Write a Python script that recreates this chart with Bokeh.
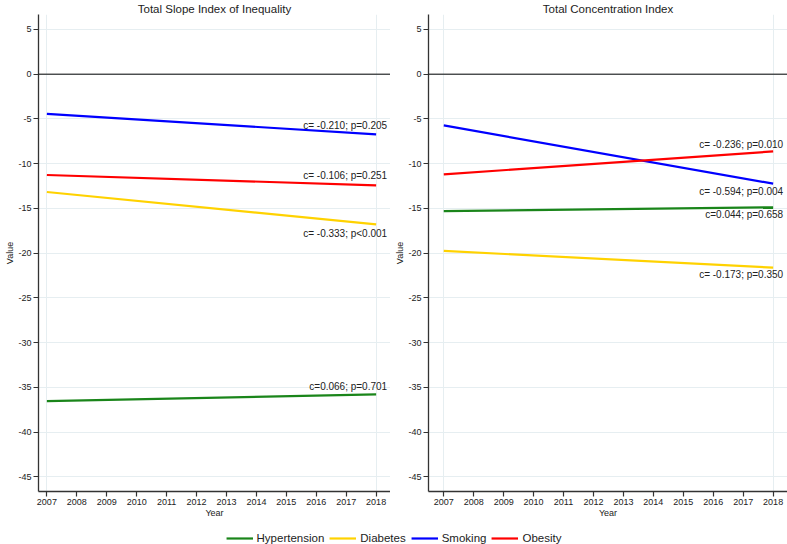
from bokeh.plotting import figure
from bokeh.models import (ColumnDataSource, Range1d, FixedTicker, Span, Legend,
                          LegendItem)
from bokeh.layouts import column, row
from bokeh.embed import file_html
from bokeh.resources import INLINE
from bokeh.core.properties import value

# ---------------- data ----------------
years = [2007, 2018]
series = ["Hypertension", "Diabetes", "Smoking", "Obesity"]
colors = ["#1a851a", "#ffd200", "#0000ff", "#ff0000"]

sii_hypertension = [-36.53, -35.79]
sii_diabetes = [-13.17, -16.78]
sii_smoking = [-4.43, -6.73]
sii_obesity = [-11.27, -12.42]
sii_labels = ["c=0.066; p=0.701", "c= -0.333; p<0.001",
              "c= -0.210; p=0.205", "c= -0.106; p=0.251"]
sii_label_dy = [-8, 9, -9, -10]

ci_hypertension = [-15.30, -14.88]
ci_diabetes = [-19.75, -21.62]
ci_smoking = [-5.73, -12.24]
ci_obesity = [-11.20, -8.63]
ci_labels = ["c=0.044; p=0.658", "c= -0.173; p=0.350",
             "c= -0.594; p=0.004", "c= -0.236; p=0.010"]
ci_label_dy = [7.5, 7, 8, -7]

y_ticks = [5, 0, -5, -10, -15, -20, -25, -30, -35, -40, -45]
y_tick_labels = [str(t) for t in y_ticks]
x_ticks = list(range(2007, 2019))
x_tick_labels = [str(t) for t in x_ticks]

FONT = "Liberation Sans"
TXT = "#222222"
GRID = "#e6eef1"


def make_panel(title, vals, labels, dys, width, left_border, xr, text_dx):
    p = figure(width=width, height=521, output_backend="svg",
               toolbar_location=None, x_range=Range1d(*xr),
               y_range=Range1d(-46.64, 6.67),
               min_border_left=left_border, min_border_right=0,
               min_border_top=13, min_border_bottom=30)
    p.title.text = title
    p.title.align = "center"
    p.title.text_font = FONT
    p.title.text_font_size = "11.5px"
    p.title.text_font_style = "normal"
    p.title.text_color = TXT
    p.title.standoff = 0
    p.title.offset = 0
    p.outline_line_color = None
    p.background_fill_color = "white"

    for ax, ticks, labs in ((p.yaxis[0], y_ticks, y_tick_labels),
                            (p.xaxis[0], x_ticks, x_tick_labels)):
        ax.ticker = FixedTicker(ticks=ticks)
        ax.major_label_overrides = dict(zip(ticks, labs))
        ax.major_label_text_font = FONT
        ax.major_label_text_font_size = "9px"
        ax.major_label_text_color = TXT
        ax.axis_label_text_font = FONT
        ax.axis_label_text_font_size = "9px"
        ax.axis_label_text_font_style = "normal"
        ax.axis_label_text_color = TXT
        ax.axis_line_color = "#333333"
        ax.axis_line_width = 1.3
        ax.major_tick_line_color = "#333333"
        ax.major_tick_line_width = 1.2
        ax.major_tick_out = 5
        ax.major_tick_in = 0
        ax.minor_tick_line_color = None
        ax.major_label_standoff = 2
        ax.axis_label_standoff = 0
    p.yaxis.axis_label = "Value"
    p.xaxis.axis_label = "Year"

    p.ygrid.ticker = FixedTicker(ticks=y_ticks)
    p.ygrid.grid_line_color = GRID
    p.xgrid.ticker = FixedTicker(ticks=[years[0], years[-1]])
    p.xgrid.grid_line_color = GRID

    p.add_layout(Span(location=0, dimension="width", line_color="black",
                      line_width=1))

    for v, c in zip(vals, colors):
        p.line(years, v, line_color=c, line_width=2.2)

    src = ColumnDataSource(dict(
        x=[years[-1]] * len(vals),
        y=[v[-1] for v in vals],
        t=labels,
        dy=dys,
    ))
    p.text(x="x", y="y", text="t", source=src, x_offset=text_dx,
           y_offset="dy", text_align="right", text_baseline="middle",
           text_font=value(FONT), text_font_size="10px", text_color=TXT)
    return p


p1 = make_panel("Total Slope Index of Inequality",
                [sii_hypertension, sii_diabetes, sii_smoking, sii_obesity],
                sii_labels, sii_label_dy, 390, 38, (2006.72, 2018.48), 11)
p2 = make_panel("Total Concentration Index",
                [ci_hypertension, ci_diabetes, ci_smoking, ci_obesity],
                ci_labels, ci_label_dy, 397, 38, (2006.49, 2018.48), 10)

# legend strip
p3 = figure(width=787, height=23, output_backend="svg", toolbar_location=None,
            x_range=Range1d(0, 1), y_range=Range1d(0, 1),
            x_axis_type=None, y_axis_type=None, min_border=0)
p3.outline_line_color = None
p3.xgrid.visible = False
p3.ygrid.visible = False
nan = float("nan")
items = []
for name, c in zip(series, colors):
    r = p3.line(x=[nan, nan], y=[nan, nan], line_color=c, line_width=2.2)
    items.append(LegendItem(label=name, renderers=[r]))
leg = Legend(items=items, location="bottom_center", orientation="horizontal",
             border_line_color=None, background_fill_alpha=0, padding=0,
             margin=0, spacing=5, glyph_width=27, glyph_height=12,
             label_standoff=4, label_text_font=FONT,
             label_text_font_size="11.5px", label_text_color=TXT,
             label_height=12)
p3.add_layout(leg)

layout = column(row(p1, p2), p3)
open("out.html", "w").write(file_html(layout, INLINE))
